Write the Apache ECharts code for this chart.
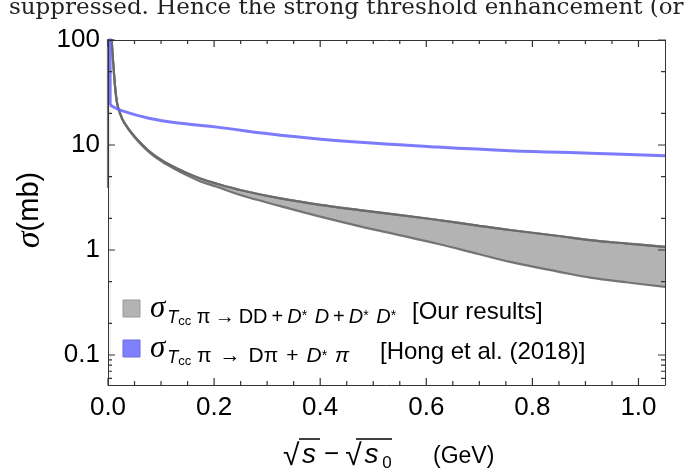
<!DOCTYPE html>
<html>
<head>
<meta charset="utf-8" />
<title>Tcc pi cross section</title>
<script src="https://cdn.jsdelivr.net/npm/echarts@6/dist/echarts.min.js"></script>
</head>
<body style="margin:0;background:#fff;">
<div id="chart" style="width:695px;height:474px;"></div>
<script type="text/javascript">
// sqrt(s) - sqrt(s0) in GeV, band of our results (sigma in mb)
var bandX = [0.005, 0.007, 0.01, 0.0164, 0.0226, 0.03, 0.048, 0.079, 0.111, 0.142, 0.174, 0.205, 0.249, 0.325, 0.4, 0.475, 0.551, 0.623, 0.7, 0.758, 0.85, 0.909, 0.98, 1.05];
var bandUpper = [200, 100, 58, 26, 20, 16.5, 12.4, 8.6, 6.7, 5.6, 4.8, 4.28, 3.73, 3.1, 2.69, 2.40, 2.15, 1.93, 1.70, 1.55, 1.36, 1.24, 1.15, 1.07];
var bandLower = [200, 100, 58, 26, 20, 16.4, 12.2, 8.4, 6.5, 5.35, 4.5, 4.0, 3.34, 2.62, 2.08, 1.68, 1.38, 1.14, 0.91, 0.77, 0.62, 0.545, 0.49, 0.445];
// jump of the band at threshold
var edgeX = [0, 0];
var edgeY = [3.9, 400];

// Hong et al. (2018)
var hongEdgeX = [0.004, 0.004];
var hongEdgeY = [300, 24];
var hongX = [0.004, 0.0226, 0.079, 0.142, 0.205, 0.325, 0.475, 0.608, 0.758, 0.909, 1.05];
var hongY = [24, 21.5, 17.9, 16.0, 14.8, 12.4, 10.6, 9.64, 8.83, 8.34, 7.9];

var xMajor = [0, 0.2, 0.4, 0.6, 0.8, 1.0];
var xMinor = [0.05, 0.1, 0.15, 0.25, 0.3, 0.35, 0.45, 0.5, 0.55, 0.65, 0.7, 0.75, 0.85, 0.9, 0.95];
var yMajorVals = [0.1, 1, 10, 100];
var yMinorVals = [0.06, 0.07, 0.08, 0.09, 0.2, 0.5, 2, 5, 20, 50];

var xMin = 0, xMax = 1.05;
var yMin = Math.log10(0.0518), yMax = 2;
var lg = Math.log10;
var yMajor = yMajorVals.map(lg);
var yMinor = yMinorVals.map(lg);

function pts(xs, ys) { return xs.map(function (x, i) { return [x, lg(ys[i])]; }); }

var frame = '#333';
var sans = 'Liberation Sans';
var gridL = 108, gridR = 30, gridT = 40, gridB = 89;
var plotW = 695 - gridL - gridR, plotH = 474 - gridT - gridB;

function xAx(pos, labels) {
  return {
    type: 'value', min: xMin, max: xMax, position: pos, z: 10,
    axisLine: { show: true, onZero: false, lineStyle: { color: frame, width: 1 } },
    axisTick: { show: false },
    axisLabel: labels ? { show: true, customValues: xMajor, formatter: function (v) { return v.toFixed(1); },
      fontFamily: sans, fontSize: 26, color: '#000', margin: 10 } : { show: false },
    splitLine: { show: false }
  };
}
function yAx(pos, labels) {
  return {
    type: 'value', min: yMin, max: yMax, position: pos, z: 10,
    axisLine: { show: true, onZero: false, lineStyle: { color: frame, width: 1 } },
    axisTick: { show: false },
    axisLabel: labels ? { show: true, customValues: yMajor, formatter: function (v) {
        var p = Math.round(v); return p < 0 ? '0.1' : String(Math.pow(10, p)); },
      fontFamily: sans, fontSize: 26, color: '#000', margin: 8 } : { show: false },
    splitLine: { show: false }
  };
}

// frame ticks as short segments in data units, pointing into the plot on all four sides
function dx(px) { return px / plotW * (xMax - xMin); }
function dy(px) { return px / plotH * (yMax - yMin); }
var tickData = [];
function addX(v, len) {
  tickData.push([v, yMin], [v, yMin + dy(len)], [v, '-'], [v, yMax], [v, yMax - dy(len)], [v, '-']);
}
function addY(v, len) {
  tickData.push([xMin, v], [xMin + dx(len), v], ['-', v], [xMax, v], [xMax - dx(len), v], ['-', v]);
}
xMajor.forEach(function (v) { addX(v, 7); });
xMinor.forEach(function (v) { addX(v, 4); });
yMajor.forEach(function (v) { addY(v, 7); });
yMinor.forEach(function (v) { addY(v, 4); });

var chart = echarts.init(document.getElementById('chart'));

var legendRich = {
  s: { fontFamily: 'Liberation Serif', fontStyle: 'italic', fontSize: 31, verticalAlign: 'bottom', padding: [0, 2, 4, 0] },
  T: { fontFamily: sans, fontStyle: 'italic', fontSize: 18, verticalAlign: 'bottom', padding: [0, 0, 1, 0] },
  cc: { fontFamily: sans, fontSize: 13, verticalAlign: 'bottom', padding: [0, 0, 0, 0] },
  b: { fontFamily: sans, fontSize: 20, verticalAlign: 'bottom', padding: [0, 0, 1, 0] },
  i: { fontFamily: sans, fontStyle: 'italic', fontSize: 20, verticalAlign: 'bottom', padding: [0, 0, 1, 0] },
  op: { fontFamily: sans, fontSize: 20, verticalAlign: 'bottom', padding: [0, 4, 1, 4] },
  b2: { fontFamily: sans, fontSize: 21, verticalAlign: 'bottom', padding: [0, 0, 1, 0] },
  i2: { fontFamily: sans, fontStyle: 'italic', fontSize: 21, verticalAlign: 'bottom', padding: [0, 0, 1, 0] },
  op2: { fontFamily: sans, fontSize: 21, verticalAlign: 'bottom', padding: [0, 8, 1, 8] },
  st: { fontFamily: sans, fontSize: 14, verticalAlign: 'bottom', padding: [0, 2, 5, 0] }
};
var txtStyle = { fontFamily: sans, fontSize: 24, fill: '#000', verticalAlign: 'bottom' };

var lineGray = { color: 'rgba(105,105,105,0.9)', width: 2.2 };
var lineBlue = { color: 'rgba(100,100,250,0.85)', width: 3 };

chart.setOption({
  animation: false,
  backgroundColor: '#fff',
  grid: { left: gridL, right: gridR, top: gridT, bottom: gridB, containLabel: false },
  xAxis: [xAx('bottom', true), xAx('top', false)],
  yAxis: [yAx('left', true), yAx('right', false)],
  series: [
    { type: 'line', data: pts(bandX, bandUpper), symbol: 'none', silent: true, smooth: 0.4,
      lineStyle: lineGray, areaStyle: { color: '#b3b3b3', opacity: 1, origin: 'start' }, z: 2 },
    { type: 'line', data: pts(bandX, bandLower), symbol: 'none', silent: true, smooth: 0.4,
      lineStyle: lineGray, areaStyle: { color: '#ffffff', opacity: 1, origin: 'start' }, z: 3 },
    { type: 'line', data: pts(bandX, bandUpper), symbol: 'none', silent: true, smooth: 0.4,
      lineStyle: lineGray, z: 4 },
    { type: 'line', data: pts(edgeX, edgeY), symbol: 'none', silent: true, lineStyle: lineGray, z: 4 },
    { type: 'line', data: pts(hongEdgeX, hongEdgeY), symbol: 'none', silent: true, lineStyle: lineBlue, z: 5 },
    { type: 'line', data: pts(hongX, hongY), symbol: 'none', silent: true, smooth: 0.4, lineStyle: lineBlue, z: 5 },
    { type: 'line', data: tickData, symbol: 'none', silent: true, connectNulls: false, clip: false,
      lineStyle: { color: frame, width: 1.2 }, z: 12 }
  ],
  graphic: [
    { type: 'text', z: 100, left: 9, top: -3, style: { text: 'suppressed. Hence the strong threshold enhancement (or',
      fontFamily: 'DejaVu Serif', fontSize: 23, fill: '#222' } },
    { type: 'text', z: 100, x: 30, y: 210, rotation: Math.PI / 2, style: {
      text: '{s|σ}{n|(mb)}', align: 'center', verticalAlign: 'middle',
      rich: { s: { fontFamily: 'Liberation Serif', fontStyle: 'italic', fontSize: 34 },
              n: { fontFamily: sans, fontSize: 29 } } } },
    // x axis title, tokens with fixed widths so the vinculum lines can follow them
    { type: 'text', z: 100, x: 283, y: 472, style: {
      text: '{r|√}{s|s}{o|−}{r|√}{s|s}{z|0}{n|(GeV)}', align: 'left', verticalAlign: 'bottom',
      rich: { r: { fontFamily: sans, fontSize: 30, width: 19, verticalAlign: 'bottom' },
              s: { fontFamily: sans, fontStyle: 'italic', fontSize: 28, width: 17, verticalAlign: 'bottom', padding: [0, 0, 3, 0] },
              o: { fontFamily: sans, fontSize: 26, width: 21, align: 'center', verticalAlign: 'bottom', padding: [0, 2, 4, 2] },
              z: { fontFamily: sans, fontSize: 17, width: 12, verticalAlign: 'bottom', padding: [0, 0, 0, 1] },
              n: { fontFamily: sans, fontSize: 23, verticalAlign: 'bottom', padding: [0, 0, 4, 40] } } } },
    { type: 'line', z: 100, shape: { x1: 299, y1: 439, x2: 320, y2: 439 }, style: { stroke: '#000', lineWidth: 1.5 } },
    { type: 'line', z: 100, shape: { x1: 356, y1: 439, x2: 392, y2: 439 }, style: { stroke: '#000', lineWidth: 1.5 } },
    { type: 'rect', z: 100, shape: { x: 123, y: 300, width: 17, height: 17 }, style: { fill: '#b3b3b3', stroke: '#9a9a9a', lineWidth: 1 } },
    { type: 'rect', z: 100, shape: { x: 123, y: 340, width: 17, height: 17 }, style: { fill: '#8080ff', stroke: '#6c6cdc', lineWidth: 1 } },
    { type: 'text', z: 100, x: 150, y: 328, style: { verticalAlign: 'bottom', fill: '#000',
      text: '{s|σ}{T|T}{cc|cc}{b| π}{op|→}{b|DD}{op|+}{i|D}{st|*}{i| D}{op|+}{i|D}{st|*}{i| D}{st|*}',
      rich: legendRich } },
    { type: 'text', z: 100, x: 412, y: 324, style: Object.assign({ text: '[Our results]' }, txtStyle) },
    { type: 'text', z: 100, x: 150, y: 368, style: { verticalAlign: 'bottom', fill: '#000',
      text: '{s|σ}{T|T}{cc|cc}{b2| π}{op2|→}{b2|Dπ}{op2|+}{i2|D}{st|*}{i2| π}',
      rich: legendRich } },
    { type: 'text', z: 100, x: 380, y: 364, style: Object.assign({ text: '[Hong et al. (2018)]' }, txtStyle) }
  ]
});
</script>
</body>
</html>
